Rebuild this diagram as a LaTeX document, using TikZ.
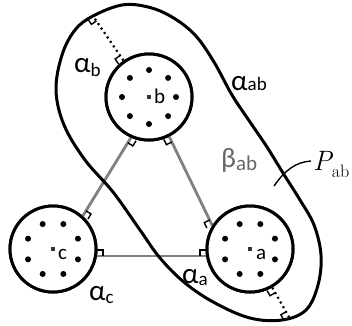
\documentclass[tikz,border=0pt]{standalone}
\usepackage{fontspec}
\newfontfamily\calib{Carlito}
\usetikzlibrary{calc}

\newcommand{\rmark}[3]{\draw[corner] ($(#1)!6pt!(#2)$) -- ($(#1)!6pt!(#2)!6pt!#3:(#2)$) -- ($(#1)!6pt!#3:(#2)$);}
\newcommand{\lowsub}[3]{#1\raisebox{-#2}{\fontsize{19}{19}\selectfont #3}}

\begin{document}
\begin{tikzpicture}[
    x=1pt, y=-1pt,
    disk/.style={circle, draw, line width=3pt, minimum size=86pt, inner sep=0pt, fill=white},
    geo/.style={draw=black!50, line width=2.8pt},
    corner/.style={line width=1.4pt},
    perp/.style={line width=2.2pt, dash pattern=on 2pt off 3.4pt},
    curve/.style={line width=3pt},
    lbl/.style={inner sep=0pt, anchor=base west, font=\calib\fontsize{29}{29}\selectfont},
    ctr/.style={inner sep=0pt, anchor=base west, font=\calib\fontsize{21}{21}\selectfont}
]
\useasboundingbox (0,0) rectangle (352,325);

\node[disk] (b) at (149,97) {};
\node[disk] (c) at (53,249) {};
\node[disk] (a) at (250,249) {};

\draw[geo] (b.246) -- (c.48);
\draw[geo] (b.297) -- (a.148);
\draw[geo] (c.-9) -- (a.189);

\draw[curve] plot[smooth cycle, tension=0.6] coordinates {
    (122,5) (148,7) (172,17) (195,35) (214,62) (232,95) (250,122) (267,147)
    (283,173) (300,200) (314,225) (321,255) (318,285) (306,310) (282,320)
    (250,318) (215,303) (185,283) (160,258) (140,230) (113,192) (85,160)
    (64,125) (56,90) (62,55) (75,30) (93,16)};

\node[disk] at (b) {};
\node[disk] at (c) {};
\node[disk] at (a) {};

\rmark{b.246}{c.48}{90}
\rmark{c.48}{b.246}{-90}
\rmark{c.-9}{a.189}{90}
\rmark{a.189}{c.-9}{-90}
\rmark{a.148}{b.297}{90}
\rmark{b.297}{a.148}{-90}

\coordinate (tb) at (93,16);
\coordinate (ta) at (289,317);
\draw[perp] (b.125) -- (tb);
\draw[perp] (a.-60) -- (ta);
\rmark{b.125}{tb}{90}
\rmark{tb}{b.125}{-90}
\rmark{a.-60}{ta}{-90}
\rmark{ta}{a.-60}{90}

\foreach \n/\s in {b/0, a/22.5, c/22.5}
  \foreach \k in {0,...,7}
    \fill (\n) ++(\s+45*\k:27) circle (3pt);

\foreach \n in {a,b,c}
  \fill[black!80] ($(\n)+(-1.7,-1.7)$) rectangle +(3.4,3.4);

\node[ctr] (lb) at ($(b)+(5,6)$) {b};
\node[ctr] (la) at ($(a)+(6,10)$) {a};
\node[ctr] (lc) at ($(c)+(5,10)$) {c};

\node[lbl] (alb) at (74,72) {\lowsub{α}{4pt}{b}};
\node[lbl] (alc) at (89,300) {\lowsub{α}{3pt}{c}};
\node[lbl] (ala) at (182,283) {\lowsub{α}{2pt}{a}};
\node[lbl] (alab) at (231,90) {\lowsub{α}{0pt}{ab}};
\node[lbl, text=black!60, font=\calib\fontsize{28}{28}\selectfont] (bab) at (221,167)
    {β\raisebox{-3pt}{\fontsize{21}{21}\selectfont ab}};

\node[inner sep=0pt, anchor=base west] (pab) at (313,170)
    {{\fontsize{28}{28}\selectfont\itshape P}\raisebox{-7pt}{\fontsize{18}{18}\selectfont ab}};
\coordinate (pin) at (274,186);
\draw[line width=1.4pt] (pin) .. controls (285,170) and (296,162) .. ([shift={(-2,-9)}]pab.base west);
\end{tikzpicture}
\end{document}
